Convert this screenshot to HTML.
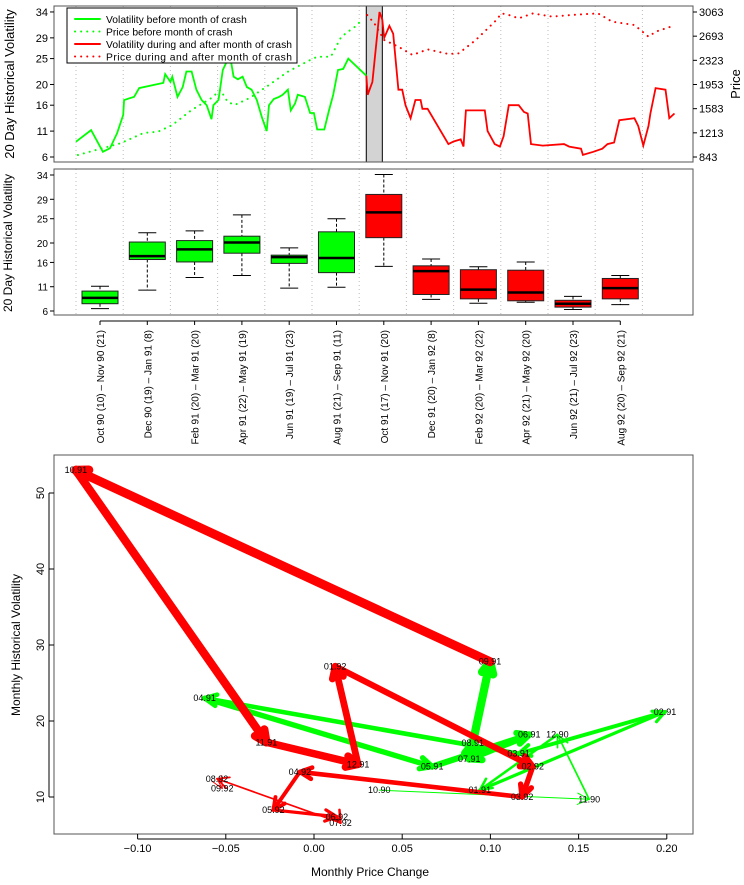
<!DOCTYPE html>
<html><head><meta charset="utf-8"><style>
body{margin:0;background:#fff;}
svg{display:block;font-family:"Liberation Sans",sans-serif;}
</style></head><body>
<svg id="c" width="744" height="885" viewBox="0 0 744 885" xmlns="http://www.w3.org/2000/svg"></svg>
<script>
// ---- Panel 1 data (t in months from Oct 90 start) ----
const greenT=[0,.32,.57,.72,.87,1.0,1.02,1.23,1.34,1.85,1.89,2.0,2.04,2.15,2.26,2.34,2.45,2.55,2.66,2.77,2.87,2.91,3.02,3.11,3.26,3.34,3.43,3.53,3.62,3.72,3.83,3.94,4.04,4.09,4.19,4.30,4.38,4.49,4.55,4.64,4.70,4.85,4.96,5.04,5.11,5.26,5.36,5.45,5.55,5.66,5.77,6.15];
const greenVol=[8.95,11.2,7.0,7.7,10.6,14.1,17,17.6,19.3,20.3,22,20.5,21.5,17.6,19.5,22.5,22.5,19,17,16,13.3,16,17,22.8,25.7,21.5,21,21.5,19.5,19,17,13.6,11,16,17.2,17.6,18,19,15,16.3,18,17.6,14.5,14.5,11.3,11.3,15,18,22.8,23,25,21.7];
const redT=[6.15,6.18,6.28,6.43,6.49,6.53,6.64,6.72,6.83,6.91,6.98,7.09,7.19,7.30,7.34,7.45,7.89,8.0,8.15,8.21,8.26,8.36,8.66,8.72,8.87,8.98,9.06,9.17,9.38,9.49,9.57,9.64,9.89,10.34,10.45,10.70,10.74,10.96,11.15,11.26,11.40,11.51,11.83,11.91,12.02,12.13,12.17,12.28,12.49,12.57,12.68];
const redVol=[21.7,18,20.5,34,32.5,29,31.3,29.8,19,19,16,13.5,17,17,15.3,15.3,8.5,9,9.4,8,15,15,15,11,8.5,8,10,16,16,14.7,14.4,8.5,8.2,8.5,8,7.6,6.4,7,7.6,8.5,8.8,13.1,13.5,12,8.2,12,14.4,19.3,19,13.5,14.4];
const greenPT=[.04,.94,1.43,1.74,2.04,2.45,2.87,3.06,3.21,3.36,3.68,4.09,4.49,4.89,5.11,5.40,5.62,5.91,6.06];
const greenPrice=[874,1053,1210,1230,1333,1563,1746,1869,1690,1639,1746,1945,2149,2302,2379,2379,2685,2838,2940];
const redPT=[6.17,6.32,6.53,6.83,7.13,7.45,7.89,8.11,8.47,8.87,9.02,9.17,9.38,9.68,10.09,10.49,11.06,11.36,11.83,12.13,12.28,12.64];
const redPrice=[3017,2890,2634,2532,2404,2491,2420,2430,2634,2914,3041,3017,2966,3041,2992,3017,3041,2914,2864,2685,2762,2847];
const volTicks=[34,29,25,20,16,11,6];
const priceTicks=[3063,2693,2323,1953,1583,1213,843];
// ---- Panel 2 box data ----
const boxLabels=["Oct 90 (10) – Nov 90 (21)","Dec 90 (19) – Jan 91 (8)","Feb 91 (20) – Mar 91 (20)","Apr 91 (22) – May 91 (19)","Jun 91 (19) – Jul 91 (23)","Aug 91 (21) – Sep 91 (11)","Oct 91 (17) – Nov 91 (20)","Dec 91 (20) – Jan 92 (8)","Feb 92 (20) – Mar 92 (22)","Apr 92 (21) – May 92 (20)","Jun 92 (21) – Jul 92 (23)","Aug 92 (20) – Sep 92 (21)"];
const boxHigh=[11.1,22.1,22.5,25.8,19.0,25.0,34.1,16.7,15.1,16.1,9.0,13.3];
const boxQ3=[10.1,20.2,20.5,21.4,17.5,22.3,30.0,15.3,14.5,14.4,8.2,12.7];
const boxMed=[8.7,17.3,18.7,20.1,17.1,16.9,26.3,14.2,10.4,9.8,7.5,10.7];
const boxQ1=[7.5,16.6,16.1,17.9,15.8,13.9,21.1,9.4,8.5,8.1,6.8,8.5];
const boxLow=[6.5,10.3,12.9,13.3,10.7,10.9,15.2,8.4,7.6,7.8,6.3,7.3];
// ---- Panel 3 scatter data ----
const monthLabels=["10.90","11.90","12.90","01.91","02.91","03.91","04.91","05.91","06.91","07.91","08.91","09.91","10.91","11.91","12.91","01.92","02.92","03.92","04.92","05.92","06.92","07.92","08.92","09.92"];
const priceChange=[0.037,0.156,0.138,0.094,0.199,0.116,-0.062,0.067,0.122,0.088,0.090,0.0998,-0.135,-0.027,0.025,0.012,0.124,0.118,-0.008,-0.023,0.013,0.015,-0.055,-0.052];
const monthVol=[10.9,9.7,18.2,10.9,21.2,15.7,23.0,14.0,18.2,15.0,17.1,27.8,53,17.2,14.3,27.2,14.0,10.0,13.3,8.3,7.4,6.6,12.4,11.1];
const xTicks3=[-0.10,-0.05,0.00,0.05,0.10,0.15,0.20];
const yTicks3=[10,20,30,40,50];

const svg=document.getElementById('c');
const NS='http://www.w3.org/2000/svg';
function mk(tag,at,parent){const e=document.createElementNS(NS,tag);for(const k in at)e.setAttribute(k,at[k]);(parent||svg).appendChild(e);return e;}
function txt(s,at,parent){const e=mk('text',at,parent);e.textContent=s;return e;}
const GREEN='#00ff00',RED='#ff0000';

// ===== Panel 1 =====
const L=54,R=693;
const tx=t=>76+t*47.2;
const vy1=v=>157-(v-6)*5.18;
const py=p=>157-(p-843)/2220*145;
const g1=mk('g',{});


for(let m=0;m<=12;m++){const gl=mk('line',{x1:tx(m),x2:tx(m),y1:6,y2:162,stroke:'#bbb','stroke-dasharray':'1 3'},g1);}
const sh=mk('rect',{x:tx(6.15),y:6,width:tx(6.49)-tx(6.15),height:156,fill:'#d3d3d3',stroke:'#000','stroke-width':1},g1);

function poly(T,V,f,at,name){const d=T.map((t,i)=>(i?'L':'M')+tx(t).toFixed(1)+','+f(V[i]).toFixed(1)).join('');const p=mk('path',Object.assign({d,fill:'none'},at),g1);}
poly(greenPT,greenPrice,py,{stroke:GREEN,'stroke-width':2,'stroke-dasharray':'0.1 6','stroke-linecap':'round'},'price-before-line');
poly(redPT,redPrice,py,{stroke:RED,'stroke-width':2,'stroke-dasharray':'0.1 6','stroke-linecap':'round'},'price-after-line');
poly(greenT,greenVol,vy1,{stroke:GREEN,'stroke-width':1.8},'volatility-before-line');
poly(redT,redVol,vy1,{stroke:RED,'stroke-width':1.8},'volatility-after-line');
const b1=mk('rect',{x:L,y:6,width:R-L,height:156,fill:'none',stroke:'#555','stroke-width':1},g1);

volTicks.forEach(v=>{mk('line',{x1:L-4,x2:L,y1:vy1(v),y2:vy1(v),stroke:'#000'},g1);const t=txt(String(v),{x:L-6,y:vy1(v)+4,'font-size':11,'text-anchor':'end'},g1);});
priceTicks.forEach(p=>{mk('line',{x1:R,x2:R+4,y1:py(p),y2:py(p),stroke:'#000'},g1);const t=txt(String(p),{x:R+6,y:py(p)+4,'font-size':11},g1);});
let t1=txt('20 Day Historical Volatility',{x:0,y:0,'font-size':13,'text-anchor':'middle',transform:'translate(14,84) rotate(-90)'},g1);

t1=txt('Price',{x:0,y:0,'font-size':13,'text-anchor':'middle',transform:'translate(740,84) rotate(-90)'},g1);

// legend
const lg=mk('g',{},g1);
mk('rect',{x:67,y:8,width:230,height:55,fill:'#fff',stroke:'#000'},lg);
const legItems=[['Volatility before month of crash',GREEN,false],['Price before month of crash',GREEN,true],['Volatility during and after month of crash',RED,false],['Price during and after month of crash',RED,true]];
legItems.forEach((it,i)=>{const y=19+i*12.5;const e=mk('g',{},lg);
mk('line',{x1:75,x2:100,y1:y,y2:y,stroke:it[1],'stroke-width':2,'stroke-dasharray':it[2]?'0.1 6':'none','stroke-linecap':'round'},e);
txt(it[0],{x:106,y:y+4,'font-size':10.3,textLength:it[0].length>33?186:undefined},e);});

// ===== Panel 2 =====
const vy2=v=>311-(v-6)*4.857;
const bx=i=>100+i*47.3;
const g2=mk('g',{});
for(let m=0;m<=12;m++){const gl=mk('line',{x1:tx(m),x2:tx(m),y1:169,y2:315,stroke:'#bbb','stroke-dasharray':'1 3'},g2);}
boxLabels.forEach((lab,i)=>{const c=bx(i),w=18,col=i<6?GREEN:RED;const g=mk('g',{},g2);
mk('line',{x1:c,x2:c,y1:vy2(boxHigh[i]),y2:vy2(boxQ3[i]),stroke:'#000','stroke-dasharray':'3 2'},g);
mk('line',{x1:c,x2:c,y1:vy2(boxQ1[i]),y2:vy2(boxLow[i]),stroke:'#000','stroke-dasharray':'3 2'},g);
mk('line',{x1:c-9,x2:c+9,y1:vy2(boxHigh[i]),y2:vy2(boxHigh[i]),stroke:'#000'},g);
mk('line',{x1:c-9,x2:c+9,y1:vy2(boxLow[i]),y2:vy2(boxLow[i]),stroke:'#000'},g);
mk('rect',{x:c-w,y:vy2(boxQ3[i]),width:2*w,height:vy2(boxQ1[i])-vy2(boxQ3[i]),fill:col,stroke:'#222'},g);
mk('line',{x1:c-w,x2:c+w,y1:vy2(boxMed[i]),y2:vy2(boxMed[i]),stroke:'#000','stroke-width':2.5},g);
mk('line',{x1:c,x2:c,y1:321,y2:325,stroke:'#000'},g2);
const t=txt(lab,{x:0,y:0,'font-size':10,'text-anchor':'end',transform:`translate(${c+4},330) rotate(-90)`},g2);});
mk('line',{x1:bx(0),x2:bx(11),y1:321,y2:321,stroke:'#000'},g2);
const b2=mk('rect',{x:L,y:169,width:R-L,height:146,fill:'none',stroke:'#555'},g2);

volTicks.forEach(v=>{mk('line',{x1:L-4,x2:L,y1:vy2(v),y2:vy2(v),stroke:'#000'},g2);const t=txt(String(v),{x:L-6,y:vy2(v)+4,'font-size':10,'text-anchor':'end'},g2);});
t1=txt('20 Day Historical Volatility',{x:0,y:0,'font-size':12,'text-anchor':'middle',transform:'translate(12,243) rotate(-90)'},g2);


// ===== Panel 3 =====
const sx=v=>314+v*1764;
const sy=v=>493+(50-v)*7.6;
const g3=mk('g',{});
const b3=mk('rect',{x:L,y:455,width:R-L,height:379,fill:'none',stroke:'#555'},g3);

const n=monthLabels.length;
for(let i=0;i<n-1;i++){
  const x1=sx(priceChange[i]),y1=sy(monthVol[i]),x2=sx(priceChange[i+1]),y2=sy(monthVol[i+1]);
  const col=(i+1)<=11?GREEN:RED;
  const w=Math.max(1,1+8*(1-Math.abs(i+0.5-11.5)/11));
  const a=Math.atan2(y2-y1,x2-x1),h=13;
  const g=mk('g',{stroke:col,'stroke-width':w.toFixed(1),fill:'none','stroke-linecap':'round','stroke-linejoin':'round'},g3);
  
  
  mk('line',{x1,y1,x2,y2},g);
  const a1=a+Math.PI-0.45,a2=a+Math.PI+0.45;
  mk('path',{d:`M${x2+h*Math.cos(a1)},${y2+h*Math.sin(a1)}L${x2},${y2}L${x2+h*Math.cos(a2)},${y2+h*Math.sin(a2)}`},g);
}
monthLabels.forEach((m,i)=>{const t=txt(m,{x:sx(priceChange[i]),y:sy(monthVol[i])+3,'font-size':9,'text-anchor':'middle'},g3);});
xTicks3.forEach(v=>{mk('line',{x1:sx(v),x2:sx(v),y1:834,y2:839,stroke:'#000'},g3);const t=txt(v.toFixed(2).replace('-','−'),{x:sx(v),y:852,'font-size':11,'text-anchor':'middle'},g3);});
mk('line',{x1:sx(-0.10),x2:sx(0.20),y1:839,y2:839,stroke:'#000'},g3);
yTicks3.forEach(v=>{mk('line',{x1:L-5,x2:L,y1:sy(v),y2:sy(v),stroke:'#000'},g3);const t=txt(String(v),{x:0,y:0,'font-size':11,'text-anchor':'middle',transform:`translate(${L-10},${sy(v)}) rotate(-90)`},g3);});
mk('line',{x1:L-5,x2:L-5,y1:sy(10),y2:sy(50),stroke:'#000'},g3);
t1=txt('Monthly Price Change',{x:370,y:876,'font-size':12,'text-anchor':'middle'},g3);

t1=txt('Monthly Historical Volatility',{x:0,y:0,'font-size':12,'text-anchor':'middle',transform:'translate(20,645) rotate(-90)'},g3);

</script>
</body></html>
